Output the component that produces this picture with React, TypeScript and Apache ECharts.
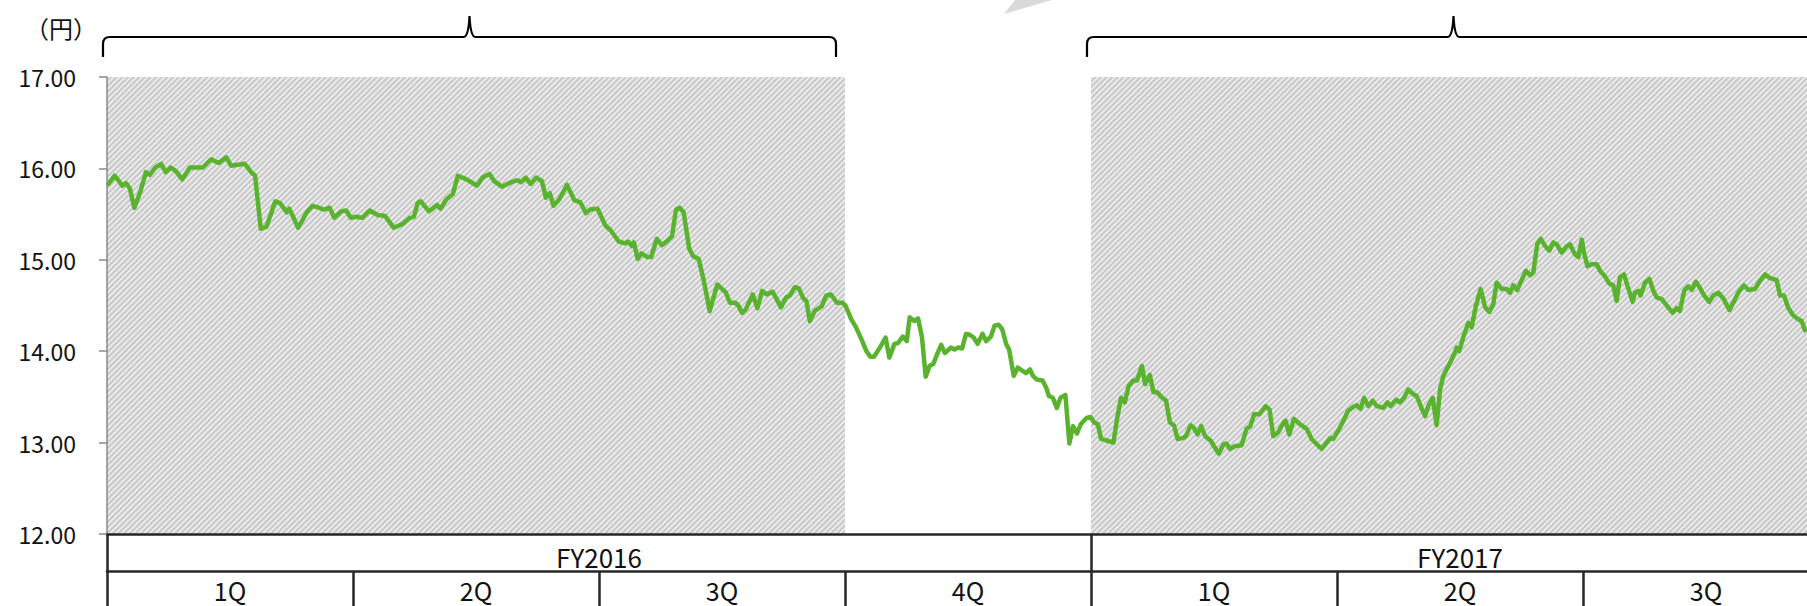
import React, { useEffect, useRef } from "react";
import * as echarts from "echarts";

// ---- categories / tick labels ----
const quarterLabels = ["1Q", "2Q", "3Q", "4Q", "1Q", "2Q", "3Q"];
const fiscalYears = ["FY2016", "FY2017"];
const fiscalYearStart = [0, 4]; // in quarters from FY2016 start
const fiscalYearEnd = [4, 7];
const shadedQuarters = [true, true, true, false, true, true, true];
const braceRanges = [
  [0, 3],
  [4, 7],
];
const yMin = 12;
const yMax = 17;
const yStep = 1;
const unitLabel = "（円）";

// ---- share price: time (quarters since FY2016 start) and value (円) ----
const priceT = [
  0.006, 0.031, 0.049, 0.062, 0.077, 0.093, 0.111, 0.135, 0.158, 0.174, 0.197, 0.22, 0.239, 0.259, 0.28, 0.306,
  0.337, 0.389, 0.423, 0.454, 0.485, 0.504, 0.56, 0.586, 0.602, 0.625, 0.648, 0.684, 0.703, 0.731, 0.741, 0.777,
  0.812, 0.835, 0.861, 0.882, 0.905, 0.924, 0.952, 0.972, 0.991, 1.014, 1.037, 1.068, 1.1, 1.13, 1.166, 1.2,
  1.232, 1.247, 1.263, 1.275, 1.309, 1.341, 1.356, 1.379, 1.406, 1.426, 1.462, 1.504, 1.527, 1.555, 1.574, 1.605,
  1.644, 1.667, 1.683, 1.702, 1.722, 1.745, 1.768, 1.784, 1.8, 1.815, 1.838, 1.87, 1.9, 1.924, 1.947, 1.963,
  1.994, 2.025, 2.048, 2.08, 2.106, 2.118, 2.134, 2.142, 2.157, 2.173, 2.196, 2.212, 2.235, 2.255, 2.274, 2.297,
  2.313, 2.328, 2.344, 2.367, 2.383, 2.405, 2.426, 2.45, 2.481, 2.501, 2.516, 2.532, 2.554, 2.566, 2.582, 2.597,
  2.625, 2.644, 2.663, 2.683, 2.706, 2.722, 2.74, 2.761, 2.776, 2.796, 2.812, 2.83, 2.843, 2.857, 2.877, 2.905,
  2.924, 2.943, 2.967, 2.989, 3.002, 3.025, 3.045, 3.067, 3.087, 3.103, 3.118, 3.142, 3.165, 3.18, 3.201, 3.216,
  3.235, 3.251, 3.263, 3.282, 3.297, 3.313, 3.328, 3.344, 3.359, 3.375, 3.391, 3.406, 3.43, 3.445, 3.461, 3.476,
  3.492, 3.507, 3.523, 3.539, 3.559, 3.574, 3.593, 3.608, 3.624, 3.639, 3.655, 3.667, 3.686, 3.702, 3.725, 3.736,
  3.752, 3.764, 3.78, 3.803, 3.818, 3.829, 3.845, 3.861, 3.876, 3.896, 3.912, 3.927, 3.943, 3.958, 3.982, 3.998,
  4.013, 4.028, 4.041, 4.067, 4.091, 4.106, 4.122, 4.137, 4.153, 4.172, 4.187, 4.207, 4.22, 4.239, 4.254, 4.27,
  4.285, 4.305, 4.321, 4.337, 4.352, 4.374, 4.386, 4.405, 4.418, 4.433, 4.448, 4.464, 4.487, 4.5, 4.519, 4.539,
  4.55, 4.565, 4.585, 4.612, 4.632, 4.648, 4.663, 4.685, 4.71, 4.726, 4.741, 4.76, 4.783, 4.791, 4.806, 4.825,
  4.85, 4.877, 4.897, 4.915, 4.938, 4.958, 4.972, 4.985, 5.005, 5.026, 5.046, 5.066, 5.08, 5.096, 5.11, 5.127,
  5.145, 5.161, 5.188, 5.205, 5.218, 5.24, 5.256, 5.272, 5.29, 5.31, 5.324, 5.34, 5.358, 5.371, 5.389, 5.405,
  5.419, 5.432, 5.453, 5.47, 5.487, 5.497, 5.513, 5.534, 5.547, 5.565, 5.584, 5.602, 5.619, 5.635, 5.649, 5.67,
  5.69, 5.703, 5.717, 5.733, 5.751, 5.768, 5.785, 5.798, 5.814, 5.828, 5.846, 5.863, 5.879, 5.893, 5.913, 5.934,
  5.947, 5.967, 5.981, 5.995, 6.004, 6.018, 6.035, 6.056, 6.069, 6.089, 6.107, 6.123, 6.137, 6.15, 6.167, 6.18,
  6.202, 6.211, 6.225, 6.234, 6.252, 6.27, 6.286, 6.299, 6.32, 6.34, 6.365, 6.381, 6.394, 6.411, 6.428, 6.442,
  6.459, 6.476, 6.492, 6.513, 6.53, 6.55, 6.57, 6.595, 6.611, 6.631, 6.654, 6.672, 6.699, 6.717, 6.74, 6.76,
  6.787, 6.801, 6.817, 6.835, 6.855, 6.875, 6.889, 6.902,
];
const priceV = [
  15.83, 15.92, 15.86, 15.81, 15.84, 15.78, 15.57, 15.74, 15.96, 15.93, 16.01, 16.05, 15.96, 16.01, 15.97, 15.88,
  16.01, 16.01, 16.1, 16.06, 16.12, 16.03, 16.05, 15.96, 15.92, 15.34, 15.36, 15.64, 15.62, 15.52, 15.56, 15.35,
  15.52, 15.59, 15.57, 15.55, 15.57, 15.46, 15.53, 15.54, 15.46, 15.47, 15.46, 15.54, 15.49, 15.48, 15.35, 15.39,
  15.46, 15.47, 15.62, 15.64, 15.53, 15.6, 15.56, 15.66, 15.72, 15.92, 15.88, 15.81, 15.9, 15.94, 15.86, 15.8,
  15.85, 15.87, 15.85, 15.9, 15.83, 15.9, 15.86, 15.68, 15.73, 15.59, 15.66, 15.82, 15.65, 15.63, 15.51, 15.55,
  15.56, 15.38, 15.32, 15.2, 15.18, 15.2, 15.15, 15.19, 15.01, 15.07, 15.03, 15.03, 15.23, 15.16, 15.2, 15.26,
  15.55, 15.57, 15.52, 15.12, 15.04, 15.01, 14.77, 14.44, 14.73, 14.68, 14.64, 14.53, 14.53, 14.5, 14.42, 14.46,
  14.62, 14.47, 14.66, 14.62, 14.65, 14.57, 14.48, 14.59, 14.61, 14.7, 14.69, 14.58, 14.55, 14.33, 14.44, 14.49,
  14.61, 14.62, 14.53, 14.53, 14.5, 14.35, 14.26, 14.13, 14.0, 13.94, 13.94, 14.04, 14.15, 13.93, 14.08, 14.09,
  14.16, 14.11, 14.37, 14.33, 14.36, 14.15, 13.72, 13.84, 13.86, 13.97, 14.07, 13.98, 14.04, 14.02, 14.04, 14.03,
  14.19, 14.18, 14.15, 14.08, 14.19, 14.11, 14.16, 14.28, 14.29, 14.24, 14.08, 14.02, 13.73, 13.82, 13.78, 13.76,
  13.8, 13.73, 13.69, 13.68, 13.6, 13.51, 13.49, 13.38, 13.49, 13.52, 12.99, 13.18, 13.1, 13.2, 13.27, 13.28,
  13.22, 13.2, 13.04, 13.02, 13.0, 13.26, 13.49, 13.44, 13.62, 13.68, 13.68, 13.84, 13.64, 13.74, 13.55, 13.55,
  13.5, 13.46, 13.22, 13.19, 13.04, 13.05, 13.07, 13.19, 13.16, 13.09, 13.18, 13.07, 13.02, 12.96, 12.88, 12.98,
  12.99, 12.93, 12.96, 12.97, 13.15, 13.18, 13.31, 13.31, 13.4, 13.36, 13.07, 13.11, 13.22, 13.24, 13.09, 13.26,
  13.2, 13.15, 13.04, 12.99, 12.93, 13.0, 13.05, 13.04, 13.13, 13.24, 13.35, 13.39, 13.41, 13.37, 13.49, 13.4,
  13.46, 13.4, 13.38, 13.44, 13.4, 13.47, 13.44, 13.49, 13.58, 13.53, 13.51, 13.4, 13.29, 13.4, 13.49, 13.19,
  13.58, 13.73, 13.84, 13.93, 14.04, 14.0, 14.15, 14.31, 14.26, 14.5, 14.68, 14.48, 14.43, 14.51, 14.75, 14.68,
  14.68, 14.64, 14.72, 14.67, 14.78, 14.88, 14.83, 14.86, 15.17, 15.23, 15.15, 15.1, 15.19, 15.17, 15.08, 15.15,
  15.17, 15.06, 15.03, 15.22, 15.08, 14.93, 14.95, 14.95, 14.88, 14.82, 14.74, 14.72, 14.55, 14.81, 14.84, 14.72,
  14.54, 14.64, 14.66, 14.61, 14.75, 14.79, 14.66, 14.59, 14.57, 14.5, 14.42, 14.47, 14.44, 14.66, 14.71, 14.67,
  14.76, 14.69, 14.61, 14.54, 14.61, 14.64, 14.58, 14.45, 14.53, 14.64, 14.72, 14.67, 14.68, 14.76, 14.84, 14.8,
  14.78, 14.61, 14.61, 14.47, 14.39, 14.35, 14.33, 14.23,
];

const FONT = '"Noto Sans CJK JP", "Noto Sans", sans-serif';
const TEXT = "#111111";
const TABLE_LINE = "#262626";
const AXIS_GREY = "#8a8a8a";
const GREEN = "#5AB32F";

function bracePath(x0: number, x1: number, yLine: number, yEnd: number, yPeak: number) {
  const r = 7;
  const w = 6;
  const xm = (x0 + x1) / 2;
  return (
    `M${x0} ${yEnd} L${x0} ${yLine + r} Q${x0} ${yLine} ${x0 + r} ${yLine} ` +
    `L${xm - w} ${yLine} Q${xm - 1} ${yLine} ${xm} ${yPeak} Q${xm + 1} ${yLine} ${xm + w} ${yLine} ` +
    `L${x1 - r} ${yLine} Q${x1} ${yLine} ${x1} ${yLine + r} L${x1} ${yEnd}`
  );
}

export default function App() {
  const ref = useRef<HTMLDivElement>(null);

  useEffect(() => {
    if (!ref.current) return;
    const chart = echarts.init(ref.current, null, { renderer: "svg" });
    const nQuarters = quarterLabels.length;
    const lineData = priceT.map((t, i) => [t, priceV[i]]);
    const fyTicks = [fiscalYearStart[0], ...fiscalYearEnd];
    const fyCenters = fiscalYears.map((_, i) => (fiscalYearStart[i] + fiscalYearEnd[i]) / 2);
    const gridTop = 77;

    chart.setOption({
      animation: false,
      grid: {
        left: 107,
        right: -22,
        top: gridTop,
        bottom: 72,
        containLabel: false,
        outerBoundsMode: "none",
      },
      xAxis: [
        {
          type: "value",
          position: "bottom",
          min: 0,
          max: nQuarters,
          z: 5,
          axisLine: { show: true, onZero: false, lineStyle: { color: TABLE_LINE, width: 2.5 } },
          axisTick: {
            show: true,
            customValues: fyTicks,
            length: 37,
            lineStyle: { color: TABLE_LINE, width: 2.5 },
          },
          axisLabel: {
            show: true,
            customValues: fyCenters,
            formatter: (v: number) => {
              const i = fyCenters.indexOf(v);
              return i >= 0 ? fiscalYears[i] : "";
            },
            margin: 9,
            fontSize: 26,
            lineHeight: 26,
            color: TEXT,
            fontFamily: FONT,
          },
          splitLine: { show: false },
        },
        {
          type: "category",
          position: "bottom",
          offset: 37,
          data: quarterLabels,
          boundaryGap: true,
          z: 5,
          axisLine: { show: true, onZero: false, lineStyle: { color: TABLE_LINE, width: 2.5 } },
          axisTick: {
            show: true,
            interval: 0,
            alignWithLabel: false,
            length: 40,
            lineStyle: { color: TABLE_LINE, width: 2.5 },
          },
          axisLabel: {
            interval: 0,
            margin: 6,
            fontSize: 25,
            lineHeight: 25,
            color: TEXT,
            fontFamily: FONT,
          },
          splitLine: { show: false },
        },
      ],
      yAxis: {
        type: "value",
        min: yMin,
        max: yMax,
        interval: yStep,
        position: "left",
        z: 5,
        axisLine: { show: true, lineStyle: { color: AXIS_GREY, width: 1.5 } },
        axisTick: { show: true, inside: false, length: 8, lineStyle: { color: AXIS_GREY, width: 1.5 } },
        axisLabel: {
          margin: 31,
          fontSize: 23,
          color: TEXT,
          fontFamily: FONT,
          formatter: (v: number) => v.toFixed(2),
        },
        splitLine: { show: false },
      },
      series: [
        {
          type: "bar",
          xAxisIndex: 1,
          yAxisIndex: 0,
          data: shadedQuarters.map((s) => (s ? yMax : "-")),
          barCategoryGap: "0%",
          barGap: "0%",
          clip: true,
          silent: true,
          z: 1,
          itemStyle: {
            color: "#ebebeb",
            decal: {
              symbol: "rect",
              symbolSize: 1,
              color: "#c8c8c8",
              dashArrayX: [1, 0],
              dashArrayY: [2, 2],
              rotation: -Math.PI / 4,
            },
          },
        },
        {
          type: "line",
          xAxisIndex: 0,
          yAxisIndex: 0,
          data: lineData,
          showSymbol: false,
          symbol: "none",
          silent: true,
          z: 3,
          lineStyle: { color: GREEN, width: 4.5, cap: "round", join: "round" },
        },
      ],
    });

    // Annotations positioned from the chart's own scale
    const px = (q: number) => chart.convertToPixel({ xAxisIndex: 0 }, q) as number;
    const yLine = gridTop - 40;
    const yEnd = gridTop - 20;
    const yPeak = gridTop - 61;
    const braces = braceRanges.map(([a, b], i) => {
      const name = "fyBrace" + i;
      const d = bracePath(px(a) - 4, px(b) - 9, yLine, yEnd, yPeak);
      echarts.graphic.registerShape(name, echarts.graphic.extendPath(d, {}));
      return {
        type: name,
        x: 0,
        y: 0,
        silent: true,
        style: { fill: "none", stroke: "#000", lineWidth: 2.2 },
      };
    });

    chart.setOption({
      graphic: [
        ...braces,
        {
          type: "polygon",
          silent: true,
          shape: {
            points: [
              [1015, 0],
              [1052, 0],
              [1004, 14],
            ],
          },
          style: { fill: "#d9d9d9" },
        },
        {
          type: "text",
          x: 61,
          y: 27,
          silent: true,
          style: {
            text: unitLabel,
            font: `24px ${FONT}`,
            fill: TEXT,
            align: "center",
            verticalAlign: "middle",
            textAlign: "center",
            textVerticalAlign: "middle",
          },
        },
      ],
    });

    return () => {
      chart.dispose();
    };
  }, []);

  return (
    <div
      ref={ref}
      style={{ position: "fixed", left: 0, top: 0, width: 1807, height: 606, background: "#ffffff" }}
    />
  );
}
